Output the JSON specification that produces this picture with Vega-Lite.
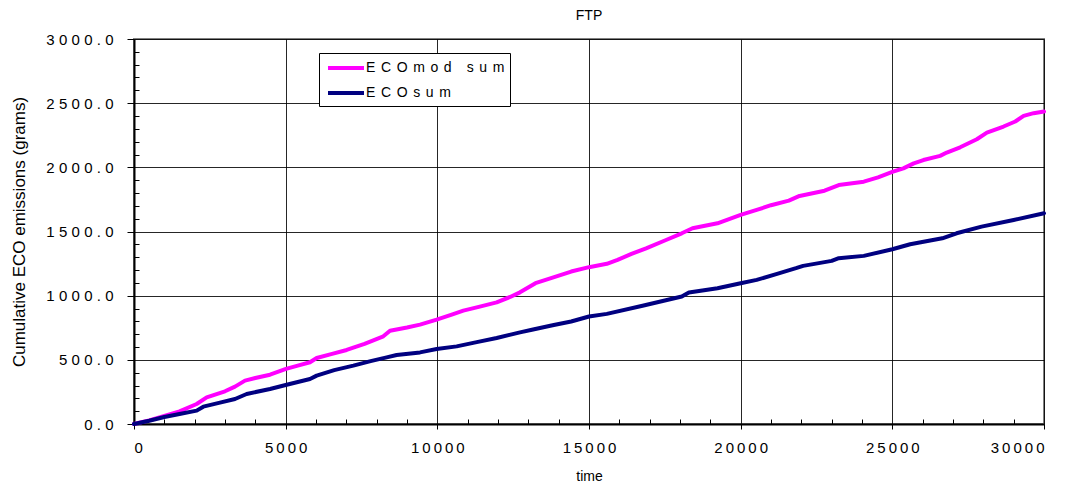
{
  "$schema": "https://vega.github.io/schema/vega-lite/v6.json",
  "width": 910,
  "height": 385,
  "autosize": {"type": "none"},
  "padding": {"left": 134, "top": 39, "right": 37, "bottom": 67},
  "background": "white",
  "config": {
    "font": "Liberation Sans",
    "view": {"stroke": "#808080", "strokeWidth": 2},
    "axis": {"labelFont": "Liberation Sans", "titleFont": "Liberation Sans", "labelColor": "#000", "titleColor": "#000", "titleFontWeight": "normal"}
  },
  "title": {"text": "FTP", "fontSize": 14, "fontWeight": "normal", "font": "Liberation Sans", "anchor": "middle", "offset": 9, "color": "#000"},
  "datasets": {
    "emissions": [
      {"time": 0, "series": "ECOmod sum", "grams": 0},
      {"time": 500, "series": "ECOmod sum", "grams": 28},
      {"time": 1000, "series": "ECOmod sum", "grams": 62},
      {"time": 1500, "series": "ECOmod sum", "grams": 98},
      {"time": 2066, "series": "ECOmod sum", "grams": 156},
      {"time": 2396, "series": "ECOmod sum", "grams": 208},
      {"time": 3000, "series": "ECOmod sum", "grams": 255},
      {"time": 3330, "series": "ECOmod sum", "grams": 291},
      {"time": 3659, "series": "ECOmod sum", "grams": 338},
      {"time": 4000, "series": "ECOmod sum", "grams": 358},
      {"time": 4484, "series": "ECOmod sum", "grams": 384},
      {"time": 5011, "series": "ECOmod sum", "grams": 429},
      {"time": 5400, "series": "ECOmod sum", "grams": 455},
      {"time": 5802, "series": "ECOmod sum", "grams": 481},
      {"time": 6022, "series": "ECOmod sum", "grams": 514},
      {"time": 6500, "series": "ECOmod sum", "grams": 545},
      {"time": 7011, "series": "ECOmod sum", "grams": 577},
      {"time": 7600, "series": "ECOmod sum", "grams": 625},
      {"time": 8220, "series": "ECOmod sum", "grams": 683},
      {"time": 8440, "series": "ECOmod sum", "grams": 727},
      {"time": 9000, "series": "ECOmod sum", "grams": 752},
      {"time": 9429, "series": "ECOmod sum", "grams": 774},
      {"time": 9978, "series": "ECOmod sum", "grams": 813},
      {"time": 10500, "series": "ECOmod sum", "grams": 855},
      {"time": 10857, "series": "ECOmod sum", "grams": 883},
      {"time": 11400, "series": "ECOmod sum", "grams": 915},
      {"time": 11956, "series": "ECOmod sum", "grams": 948},
      {"time": 12400, "series": "ECOmod sum", "grams": 990},
      {"time": 12725, "series": "ECOmod sum", "grams": 1026},
      {"time": 13235, "series": "ECOmod sum", "grams": 1097},
      {"time": 13800, "series": "ECOmod sum", "grams": 1140},
      {"time": 14412, "series": "ECOmod sum", "grams": 1188},
      {"time": 15000, "series": "ECOmod sum", "grams": 1222},
      {"time": 15588, "series": "ECOmod sum", "grams": 1248},
      {"time": 15941, "series": "ECOmod sum", "grams": 1279},
      {"time": 16400, "series": "ECOmod sum", "grams": 1325},
      {"time": 16882, "series": "ECOmod sum", "grams": 1369},
      {"time": 17500, "series": "ECOmod sum", "grams": 1430},
      {"time": 18059, "series": "ECOmod sum", "grams": 1486},
      {"time": 18412, "series": "ECOmod sum", "grams": 1525},
      {"time": 19235, "series": "ECOmod sum", "grams": 1564},
      {"time": 20000, "series": "ECOmod sum", "grams": 1629},
      {"time": 20529, "series": "ECOmod sum", "grams": 1668},
      {"time": 21000, "series": "ECOmod sum", "grams": 1705},
      {"time": 21588, "series": "ECOmod sum", "grams": 1741},
      {"time": 21941, "series": "ECOmod sum", "grams": 1777},
      {"time": 22765, "series": "ECOmod sum", "grams": 1818},
      {"time": 23235, "series": "ECOmod sum", "grams": 1862},
      {"time": 24059, "series": "ECOmod sum", "grams": 1888},
      {"time": 24529, "series": "ECOmod sum", "grams": 1922},
      {"time": 25000, "series": "ECOmod sum", "grams": 1964},
      {"time": 25363, "series": "ECOmod sum", "grams": 1992},
      {"time": 25706, "series": "ECOmod sum", "grams": 2031},
      {"time": 26024, "series": "ECOmod sum", "grams": 2057},
      {"time": 26575, "series": "ECOmod sum", "grams": 2089},
      {"time": 26795, "series": "ECOmod sum", "grams": 2115},
      {"time": 27236, "series": "ECOmod sum", "grams": 2156},
      {"time": 27786, "series": "ECOmod sum", "grams": 2219},
      {"time": 28117, "series": "ECOmod sum", "grams": 2271},
      {"time": 28667, "series": "ECOmod sum", "grams": 2318},
      {"time": 29053, "series": "ECOmod sum", "grams": 2357},
      {"time": 29328, "series": "ECOmod sum", "grams": 2401},
      {"time": 29659, "series": "ECOmod sum", "grams": 2422},
      {"time": 30000, "series": "ECOmod sum", "grams": 2435},
      {"time": 0, "series": "ECOsum", "grams": 0},
      {"time": 500, "series": "ECOsum", "grams": 25},
      {"time": 1000, "series": "ECOsum", "grams": 55},
      {"time": 1500, "series": "ECOsum", "grams": 78},
      {"time": 2066, "series": "ECOsum", "grams": 104},
      {"time": 2286, "series": "ECOsum", "grams": 135},
      {"time": 2800, "series": "ECOsum", "grams": 165},
      {"time": 3330, "series": "ECOsum", "grams": 195},
      {"time": 3714, "series": "ECOsum", "grams": 234},
      {"time": 4484, "series": "ECOsum", "grams": 273},
      {"time": 5033, "series": "ECOsum", "grams": 306},
      {"time": 5802, "series": "ECOsum", "grams": 351},
      {"time": 6022, "series": "ECOsum", "grams": 377},
      {"time": 6600, "series": "ECOsum", "grams": 420},
      {"time": 7231, "series": "ECOsum", "grams": 455},
      {"time": 7800, "series": "ECOsum", "grams": 490},
      {"time": 8330, "series": "ECOsum", "grams": 519},
      {"time": 8659, "series": "ECOsum", "grams": 538},
      {"time": 9429, "series": "ECOsum", "grams": 558},
      {"time": 9978, "series": "ECOsum", "grams": 584},
      {"time": 10637, "series": "ECOsum", "grams": 605},
      {"time": 11300, "series": "ECOsum", "grams": 638},
      {"time": 11956, "series": "ECOsum", "grams": 670},
      {"time": 12725, "series": "ECOsum", "grams": 714},
      {"time": 13118, "series": "ECOsum", "grams": 734},
      {"time": 13800, "series": "ECOsum", "grams": 770},
      {"time": 14412, "series": "ECOsum", "grams": 799},
      {"time": 15000, "series": "ECOsum", "grams": 838},
      {"time": 15588, "series": "ECOsum", "grams": 858},
      {"time": 16765, "series": "ECOsum", "grams": 921},
      {"time": 18059, "series": "ECOsum", "grams": 993},
      {"time": 18294, "series": "ECOsum", "grams": 1024},
      {"time": 19235, "series": "ECOsum", "grams": 1058},
      {"time": 20000, "series": "ECOsum", "grams": 1097},
      {"time": 20529, "series": "ECOsum", "grams": 1123},
      {"time": 21200, "series": "ECOsum", "grams": 1170},
      {"time": 21824, "series": "ECOsum", "grams": 1214},
      {"time": 22059, "series": "ECOsum", "grams": 1232},
      {"time": 23000, "series": "ECOsum", "grams": 1271},
      {"time": 23235, "series": "ECOsum", "grams": 1292},
      {"time": 24059, "series": "ECOsum", "grams": 1310},
      {"time": 25000, "series": "ECOsum", "grams": 1362},
      {"time": 25588, "series": "ECOsum", "grams": 1401},
      {"time": 26647, "series": "ECOsum", "grams": 1447},
      {"time": 27118, "series": "ECOsum", "grams": 1486},
      {"time": 27941, "series": "ECOsum", "grams": 1538},
      {"time": 29000, "series": "ECOsum", "grams": 1590},
      {"time": 30000, "series": "ECOsum", "grams": 1642}
    ]
  },
  "data": {"name": "emissions"},
  "resolve": {"axis": {"x": "independent", "y": "independent"}},
  "layer": [
    {
      "description": "minor ticks on both axes (every 1000 on time, every 100 on grams)",
      "mark": {"type": "line", "opacity": 0},
      "encoding": {
        "x": {"field": "time", "type": "quantitative", "scale": {"domain": [0, 30000], "nice": false},
          "axis": {"orient": "bottom", "values": [1000,2000,3000,4000,6000,7000,8000,9000,11000,12000,13000,14000,16000,17000,18000,19000,21000,22000,23000,24000,26000,27000,28000,29000], "tickSize": -5, "tickColor": "#000", "tickWidth": 1, "labels": false, "domain": false, "grid": false, "title": null}},
        "y": {"field": "grams", "type": "quantitative", "scale": {"domain": [0, 3000], "nice": false},
          "axis": {"orient": "left", "values": [100,200,300,400,600,700,800,900,1100,1200,1300,1400,1600,1700,1800,1900,2100,2200,2300,2400,2600,2700,2800,2900], "tickSize": -5, "tickColor": "#000", "tickWidth": 1, "labels": false, "domain": false, "grid": false, "title": null}}
      }
    },
    {
      "transform": [{"filter": "datum.series === 'ECOmod sum'"}],
      "mark": {"type": "line", "strokeWidth": 4, "strokeJoin": "round", "strokeCap": "round"},
      "encoding": {
        "x": {"field": "time", "type": "quantitative", "scale": {"domain": [0, 30000], "nice": false},
          "axis": {"orient": "bottom", "values": [0,5000,10000,15000,20000,25000,30000], "format": "d",
            "labelExpr": "join(split(datum.label, ''), '\u2009')",
            "labelFontSize": 15, "labelPadding": 11, "tickSize": 5, "tickColor": "#000", "tickWidth": 1,
            "domainColor": "#000", "domainWidth": 2, "grid": true, "gridColor": "#000", "gridWidth": 1, "gridOpacity": 0.85,
            "title": "time", "titleFontSize": 14, "titlePadding": 14}},
        "y": {"field": "grams", "type": "quantitative", "scale": {"domain": [0, 3000], "nice": false},
          "axis": {"orient": "left", "values": [0,500,1000,1500,2000,2500,3000], "format": ".1f",
            "labelExpr": "join(split(datum.label, ''), '\u2009\u200a')",
            "labelFontSize": 15, "labelPadding": 14, "tickSize": 7, "tickColor": "#000", "tickWidth": 1,
            "domainColor": "#000", "domainWidth": 2, "grid": true, "gridColor": "#000", "gridWidth": 1, "gridOpacity": 0.85,
            "title": "Cumulative ECO emissions (grams)", "titleFontSize": 17, "titlePadding": 17}},
        "color": {"field": "series", "type": "nominal", "title": null,
          "scale": {"domain": ["ECOmod sum", "ECOsum"], "range": ["#FF00FF", "#000080"]},
          "legend": {"orient": "none", "legendX": 185, "legendY": 14, "symbolType": "M-2.25,0H2.25", "symbolSize": 256,
            "symbolStrokeWidth": 4, "symbolOffset": 12, "labelFontSize": 14, "labelFont": "Liberation Sans", "labelColor": "#000",
            "labelExpr": "join(split(datum.label, ''), '\u2009\u2009')",
            "fillColor": "white", "strokeColor": "#000", "padding": 5, "rowPadding": 7, "labelOffset": 10}}
      }
    },
    {
      "transform": [{"filter": "datum.series === 'ECOsum'"}],
      "mark": {"type": "line", "strokeWidth": 4, "strokeJoin": "round", "strokeCap": "round"},
      "encoding": {
        "x": {"field": "time", "type": "quantitative", "scale": {"domain": [0, 30000], "nice": false}, "axis": null},
        "y": {"field": "grams", "type": "quantitative", "scale": {"domain": [0, 3000], "nice": false}, "axis": null},
        "color": {"field": "series", "type": "nominal", "scale": {"domain": ["ECOmod sum", "ECOsum"], "range": ["#FF00FF", "#000080"]}}
      }
    }
  ]
}
